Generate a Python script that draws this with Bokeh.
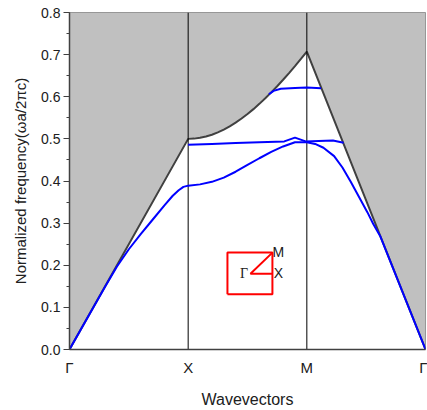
from bokeh.plotting import figure
from bokeh.models import Range1d, FixedTicker, SingleIntervalTicker, PrintfTickFormatter
from bokeh.core.properties import value
from bokeh.embed import file_html
from bokeh.resources import INLINE

# high-symmetry points
kpts = [0, 1, 2, 3]
klabels = ["Γ", "X", "M", "Γ"]

# light line (boundary of the light cone)
light_k = [0.0, 1.0, 1.05, 1.1, 1.15, 1.2, 1.25, 1.3, 1.35, 1.4, 1.45, 1.5, 1.55, 1.6,
           1.65, 1.7, 1.75, 1.8, 1.85, 1.9, 1.95, 2.0, 3.0]
light_w = [0.0, 0.5, 0.5006, 0.5025, 0.5056, 0.5099, 0.5154, 0.522, 0.5297, 0.5385, 0.5483,
           0.559, 0.5706, 0.5831, 0.5963, 0.6103, 0.625, 0.6403, 0.6562, 0.6727, 0.6897, 0.7071, 0.0]

# band 1 (lowest guided band)
b1_k = [0.0, 0.3, 0.4, 0.5, 0.6, 0.7, 0.8, 0.87, 0.92, 0.96, 1.0,
        1.1, 1.2, 1.3, 1.4, 1.5, 1.6, 1.7, 1.8, 1.9, 2.0,
        2.07, 2.14, 2.23, 2.3, 2.37, 2.44, 2.51, 2.56, 2.62, 2.8, 3.0]
b1_w = [0.0, 0.149, 0.197, 0.238, 0.274, 0.308, 0.342, 0.365, 0.378, 0.386, 0.389,
        0.392, 0.398, 0.408, 0.422, 0.438, 0.454, 0.469, 0.482, 0.492, 0.492,
        0.488, 0.479, 0.459, 0.432, 0.398, 0.362, 0.326, 0.298, 0.268, 0.141, 0.0]

# band 2 (flat band near 0.49)
b2_k = [1.0, 1.2, 1.4, 1.6, 1.81, 1.9, 1.99, 2.1, 2.22, 2.31]
b2_w = [0.486, 0.488, 0.49, 0.492, 0.494, 0.503, 0.494, 0.495, 0.496, 0.491]

# band 3 (upper band near 0.62)
b3_k = [1.68, 1.72, 1.78, 1.9, 2.0, 2.12]
b3_w = [0.606, 0.614, 0.619, 0.621, 0.622, 0.62]

# inset: Brillouin zone sketch
bz_x = [1.331, 1.71, 1.71, 1.331, 1.331]
bz_y = [0.131, 0.131, 0.230, 0.230, 0.131]
path_x = [1.71, 1.525, 1.71]
path_y = [0.230, 0.180, 0.180]
bz_lab_x = [1.505, 1.76, 1.76]
bz_lab_y = [0.180, 0.231, 0.181]
bz_lab = ["Γ", "M", "X"]

p = figure(width=427, height=410, x_range=Range1d(0, 3), y_range=Range1d(0, 0.8),
           output_backend="svg", toolbar_location=None,
           min_border_left=69, min_border_right=2, min_border_top=12, min_border_bottom=60)
p.xgrid.grid_line_color = None
p.ygrid.grid_line_color = None
p.outline_line_color = "#8a8a8a"
p.background_fill_color = "white"

# light cone shading
p.varea(x=light_k, y1=light_w, y2=0.8, fill_color="#c0c0c0")
p.line(light_k, light_w, line_color="#404040", line_width=2)

# vertical lines at X and M
p.segment(x0=kpts[1:3], y0=0, x1=kpts[1:3], y1=0.8, line_color="black", line_width=1)

# bands
for bk, bw in [(b1_k, b1_w), (b2_k, b2_w), (b3_k, b3_w)]:
    p.line(bk, bw, line_color="#0000ff", line_width=2)

# inset
p.line(bz_x, bz_y, line_color="#ff0000", line_width=2)
p.line(path_x, path_y, line_color="#ff0000", line_width=2)
p.text(x=bz_lab_x[:1], y=bz_lab_y[:1], text=bz_lab[:1], text_font=value("Liberation Serif"),
       text_font_size="14px", text_align="right", text_baseline="middle", text_color="#202020")
p.text(x=bz_lab_x[1:], y=bz_lab_y[1:], text=bz_lab[1:], text_font=value("Liberation Sans"),
       text_font_size="14px", text_align="center", text_baseline="middle", text_color="#202020")

# x axis
p.xaxis.ticker = FixedTicker(ticks=kpts)
p.xaxis.major_label_overrides = {k: l for k, l in zip(kpts, klabels)}
p.xaxis.major_tick_line_color = None
p.xaxis.minor_tick_line_color = None
p.xaxis.major_tick_out = 0
p.xaxis.major_tick_in = 0
p.xaxis.minor_tick_out = 0
p.xaxis.minor_tick_in = 0
p.xaxis.major_label_standoff = 9
p.xaxis.axis_label = "Wavevectors"
p.xaxis.axis_label_standoff = 12

# y axis
p.yaxis.ticker = SingleIntervalTicker(interval=0.1, num_minor_ticks=2)
p.yaxis.formatter = PrintfTickFormatter(format="%.1f")
p.yaxis.major_tick_in = 0
p.yaxis.major_tick_out = 6
p.yaxis.minor_tick_in = 0
p.yaxis.minor_tick_out = 3
p.yaxis.major_tick_line_color = "#404040"
p.yaxis.minor_tick_line_color = "#404040"
p.yaxis.major_label_standoff = 3
p.yaxis.axis_label = "Normalized frequency(ωa/2πc)"
p.yaxis.axis_label_standoff = 9

for ax in [p.xaxis[0], p.yaxis[0]]:
    ax.axis_line_color = "#404040"
    ax.axis_line_width = 1.5
    ax.major_label_text_font = "Liberation Sans"
    ax.major_label_text_color = "#202020"
    ax.axis_label_text_font = "Liberation Sans"
    ax.axis_label_text_font_style = "normal"
    ax.axis_label_text_color = "#202020"
p.xaxis.major_label_text_font_size = "15px"
p.yaxis.major_label_text_font_size = "14px"
p.xaxis.axis_label_text_font_size = "16px"
p.yaxis.axis_label_text_font_size = "15px"

open("out.html", "w").write(file_html(p, INLINE))
